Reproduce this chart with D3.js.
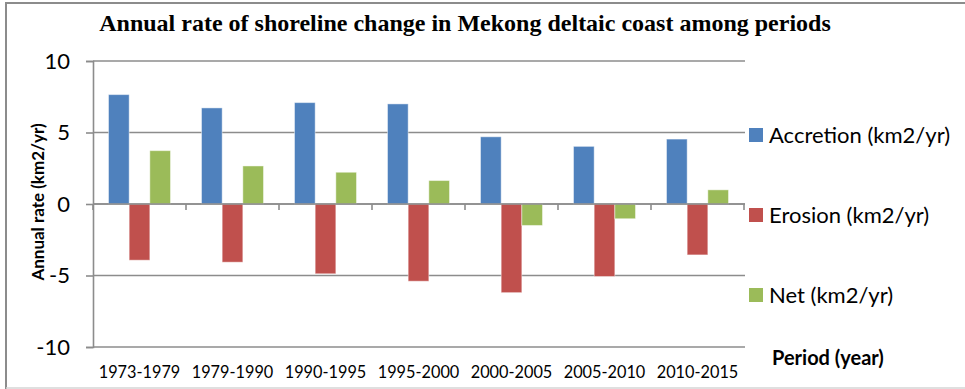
<!DOCTYPE html>
<html>
<head>
<meta charset="utf-8">
<script src="https://cdn.jsdelivr.net/npm/d3@7"></script>
<style>
  html, body { margin: 0; padding: 0; background: #fff; }
  svg { display: block; }
</style>
</head>
<body>
<svg id="chart" width="965" height="389"></svg>
<script>
// Shoreline change rates per period (km2/yr)
const periods = ["1973-1979", "1979-1990", "1990-1995", "1995-2000", "2000-2005", "2005-2010", "2010-2015"];
const seriesNames = ["Accretion (km2/yr)", "Erosion (km2/yr)", "Net (km2/yr)"];
const accretion = [7.65, 6.72, 7.09, 7.00, 4.70, 4.03, 4.54];
const erosion = [-3.93, -4.07, -4.88, -5.40, -6.20, -5.07, -3.56];
const net = [3.73, 2.66, 2.22, 1.64, -1.50, -1.03, 0.99];
const yTicks = [-10, -5, 0, 5, 10];
const colors = ["#4f81bd", "#c0504d", "#9bbb59"];

const seriesValues = [accretion, erosion, net];
const svg = d3.select("#chart");
const W = 965, H = 389;

const plot = { left: 93, right: 744, top: 61, bottom: 347 };

const y = d3.scaleLinear().domain([-10, 10]).range([plot.bottom, plot.top]);
const x = d3.scaleBand().domain(periods).range([plot.left, plot.right]).paddingInner(0).paddingOuter(0);

// Excel-style clustering: gap width 150% of a bar
const barW = x.bandwidth() / 4.5;
const xs = d3.scaleBand().domain(seriesNames)
  .range([0.75 * barW, 0.75 * barW + 3 * barW]).padding(0);

// outer frame
svg.append("rect").attr("x", 0).attr("y", 0).attr("width", W).attr("height", H).attr("fill", "#fff");
svg.append("line").attr("x1", 6).attr("x2", W).attr("y1", 3).attr("y2", 3)
  .attr("stroke", "#8c8c8c").attr("stroke-width", 2);
svg.append("line").attr("x1", 6).attr("x2", 6).attr("y1", 2).attr("y2", H)
  .attr("stroke", "#8c8c8c").attr("stroke-width", 2);
svg.append("line").attr("x1", 6).attr("x2", W).attr("y1", 388).attr("y2", 388)
  .attr("stroke", "#d4d4d4").attr("stroke-width", 1.5);

// title
svg.append("text")
  .attr("x", 465).attr("y", 31)
  .attr("text-anchor", "middle")
  .attr("font-family", "'Liberation Serif', 'Times New Roman', serif")
  .attr("font-weight", "bold")
  .attr("font-size", 24)
  .attr("fill", "#000")
  .text("Annual rate of shoreline change in Mekong deltaic coast among periods");

// horizontal gridlines
svg.append("g").selectAll("line").data(yTicks).join("line")
  .attr("x1", plot.left).attr("x2", plot.right + 1)
  .attr("y1", d => y(d)).attr("y2", d => y(d))
  .attr("stroke", "#8c8c8c").attr("stroke-width", 1.6);

// y axis
const yAxis = d3.axisLeft(y).tickValues(yTicks).tickSize(7).tickPadding(16).tickFormat(d => String(d));
const gy = svg.append("g").attr("transform", `translate(${plot.left},0)`).call(yAxis);
gy.select(".domain").attr("stroke", "#8c8c8c").attr("stroke-width", 1.6);
gy.selectAll(".tick line").attr("stroke", "#8c8c8c").attr("stroke-width", 1.6);
gy.selectAll(".tick text")
  .attr("font-family", "Lato, 'Open Sans', sans-serif")
  .attr("font-size", 22).attr("fill", "#000");

// category tick marks on the zero line
const bounds = periods.map(p => x(p)).concat([plot.right]);
svg.append("g").selectAll("line").data(bounds).join("line")
  .attr("x1", d => d).attr("x2", d => d)
  .attr("y1", y(0)).attr("y2", y(0) + 6)
  .attr("stroke", "#8c8c8c").attr("stroke-width", 1.6);

// bars
const groups = svg.append("g").selectAll("g").data(periods).join("g")
  .attr("transform", p => `translate(${x(p)},0)`);
groups.selectAll("rect")
  .data((p, i) => seriesValues.map((vals, s) => ({ name: seriesNames[s], v: vals[i], c: colors[s] })))
  .join("rect")
  .attr("x", d => xs(d.name))
  .attr("width", xs.bandwidth())
  .attr("y", d => y(Math.max(0, d.v)))
  .attr("height", d => Math.abs(y(d.v) - y(0)))
  .attr("fill", d => d.c)
  .attr("stroke", "#ffffff").attr("stroke-opacity", 0.45).attr("stroke-width", 1);

// zero axis line on top of bars
svg.append("line").attr("x1", plot.left).attr("x2", plot.right + 1)
  .attr("y1", y(0)).attr("y2", y(0))
  .attr("stroke", "#8c8c8c").attr("stroke-width", 1.6);

// x category labels
svg.append("g").selectAll("text").data(periods).join("text")
  .attr("x", p => x(p) + x.bandwidth() / 2)
  .attr("y", 378)
  .attr("text-anchor", "middle")
  .attr("font-family", "Lato, 'Open Sans', sans-serif")
  .attr("font-size", 16.3).attr("fill", "#000")
  .text(p => p);

// axis titles
svg.append("text")
  .attr("transform", "translate(44,202) rotate(-90)")
  .attr("text-anchor", "middle")
  .attr("font-family", "Lato, 'Open Sans', sans-serif")
  .attr("font-weight", "bold").attr("font-size", 17).attr("fill", "#000")
  .text("Annual rate (km2/yr)");

svg.append("text")
  .attr("x", 772).attr("y", 365)
  .attr("font-family", "Lato, 'Open Sans', sans-serif")
  .attr("font-weight", "bold").attr("font-size", 20).attr("fill", "#000")
  .text("Period (year)");

// legend
const legendY = [135, 215, 295];
const lg = svg.append("g").selectAll("g").data(seriesNames).join("g")
  .attr("transform", (d, i) => `translate(749,${legendY[i]})`);
lg.append("rect").attr("x", 0).attr("y", -7).attr("width", 14).attr("height", 14)
  .attr("fill", (d, i) => colors[i]);
lg.append("text").attr("x", 20).attr("y", 7.5)
  .attr("font-family", "Lato, 'Open Sans', sans-serif")
  .attr("font-size", 22).attr("fill", "#000")
  .text(d => d);
</script>
</body>
</html>
